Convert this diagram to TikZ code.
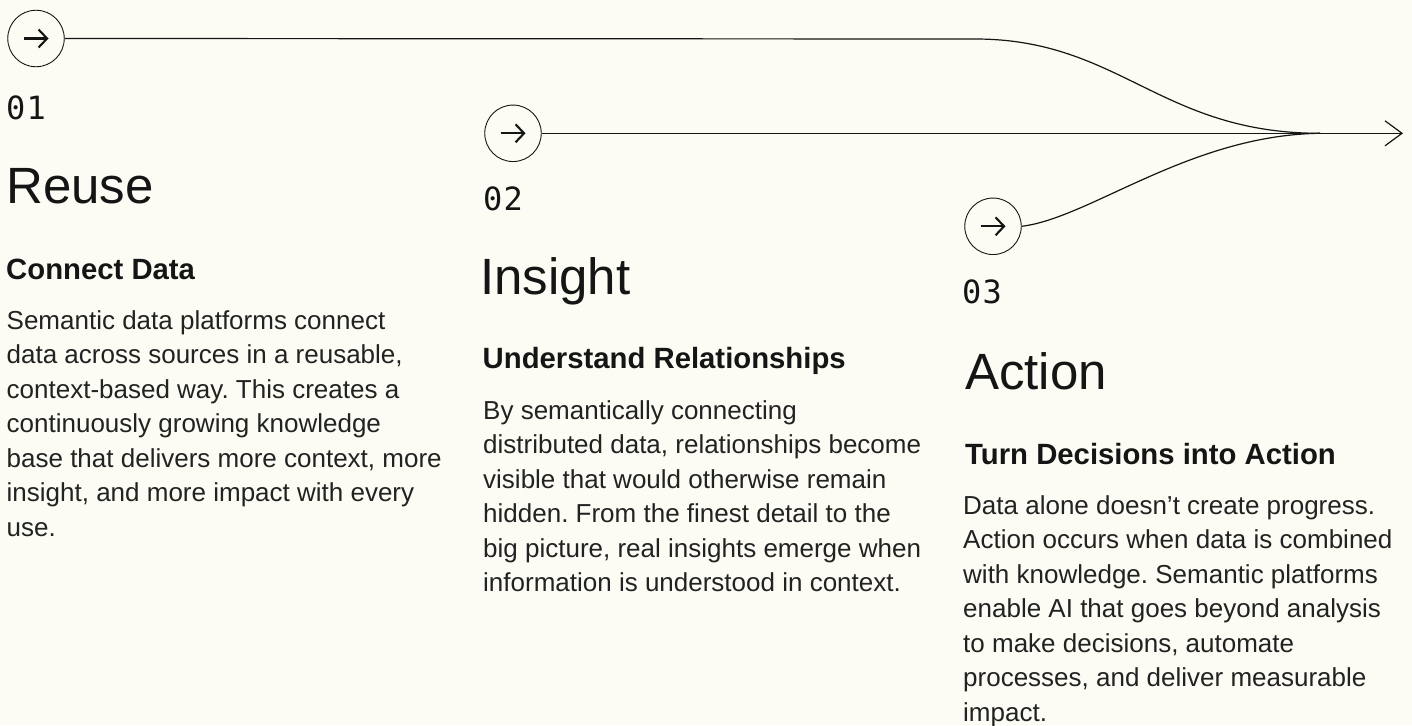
\documentclass[tikz,border=0pt]{standalone}
\usepackage{fontspec}
\setmainfont{Liberation Sans}
\newfontfamily\monofont[LetterSpace=4]{DejaVu Sans Mono}
\usetikzlibrary{arrows.meta}
\definecolor{bgcream}{HTML}{FCFCF4}
\definecolor{ink}{HTML}{151515}
\definecolor{bodyink}{HTML}{222222}
\frenchspacing

\begin{document}
\begin{tikzpicture}[x=1pt,y=-1pt,
    ring/.style={circle,draw=ink,line width=0.9pt,minimum size=56.5pt,inner sep=0pt},
    glyph/.style={ink,line width=2.1pt,-{Straight Barb[length=8.5pt,width=18pt]}},
    flow/.style={ink,line width=1.2pt},
    num/.style={anchor=base west,inner sep=0pt,ink,font=\monofont\fontsize{32}{32}\selectfont},
    title/.style={anchor=base west,inner sep=0pt,ink,font=\fontsize{51}{51}\selectfont},
    head/.style={anchor=base west,inner sep=0pt,ink,font=\bfseries\fontsize{29.3}{29.3}\selectfont},
    body/.style={anchor=base west,inner sep=0pt,bodyink,font=\fontsize{26}{34.5}\selectfont}]

    \fill[bgcream](0,0)rectangle(1412,725);
    \useasboundingbox(0,0)rectangle(1412,725);

    % the three steps
    \node[ring](c1)at(36,38.5){};
    \node[ring](c2)at(513,133.3){};
    \node[ring](c3)at(993,226.3){};
    \draw[glyph]([xshift=-12.5pt]c1.center)--([xshift=12.5pt]c1.center);
    \draw[glyph]([xshift=-12.5pt]c2.center)--([xshift=12.5pt]c2.center);
    \draw[glyph]([xshift=-12.5pt]c3.center)--([xshift=12.5pt]c3.center);

    % lines that join into one arrow
    \coordinate(bend)at(975,39);
    \coordinate(merge)at(1320,133.3);
    \coordinate(tip)at(1403,133.3);
    \draw[flow](c1.east)--(bend)..controls(1120,39)and(1160,133.3)..(merge);
    \draw[flow,-{Straight Barb[length=17pt,width=25pt]}](c2.east)--(tip);
    \draw[flow](c3.east)..controls(1090,218)and(1190,135)..(merge);

    % column 1
    \node[num](n1)at(6,119){01};
    \node[title](t1)at(6,203.3){Reuse};
    \node[head](h1)at(6,279.3){Connect Data};
    \node[body](b1)at(6.5,329.3){\parbox[t]{460pt}{\raggedright
        Semantic data platforms connect\\
        data across sources in a reusable,\\
        context-based way. This creates a\\
        continuously growing knowledge\\
        base that delivers more context, more\\
        insight, and more impact with every\\
        use.}};

    % column 2
    \node[num](n2)at(483,210){02};
    \node[title](t2)at(480,294){Insight};
    \node[head](h2)at(482.5,368.3){Understand Relationships};
    \node[body](b2)at(483,419.3){\parbox[t]{460pt}{\raggedright
        By semantically connecting\\
        distributed data, relationships become\\
        visible that would otherwise remain\\
        hidden. From the finest detail to the\\
        big picture, real insights emerge when\\
        information is understood in context.}};

    % column 3
    \node[num](n3)at(962,303.3){03};
    \node[title](t3)at(965,389.3){Action};
    \node[head](h3)at(965,464){Turn Decisions into Action};
    \node[body](b3)at(963,514){\parbox[t]{440pt}{\raggedright
        Data alone doesn’t create progress.\\
        Action occurs when data is combined\\
        with knowledge. Semantic platforms\\
        enable AI that goes beyond analysis\\
        to make decisions, automate\\
        processes, and deliver measurable\\
        impact.}};
\end{tikzpicture}
\end{document}
